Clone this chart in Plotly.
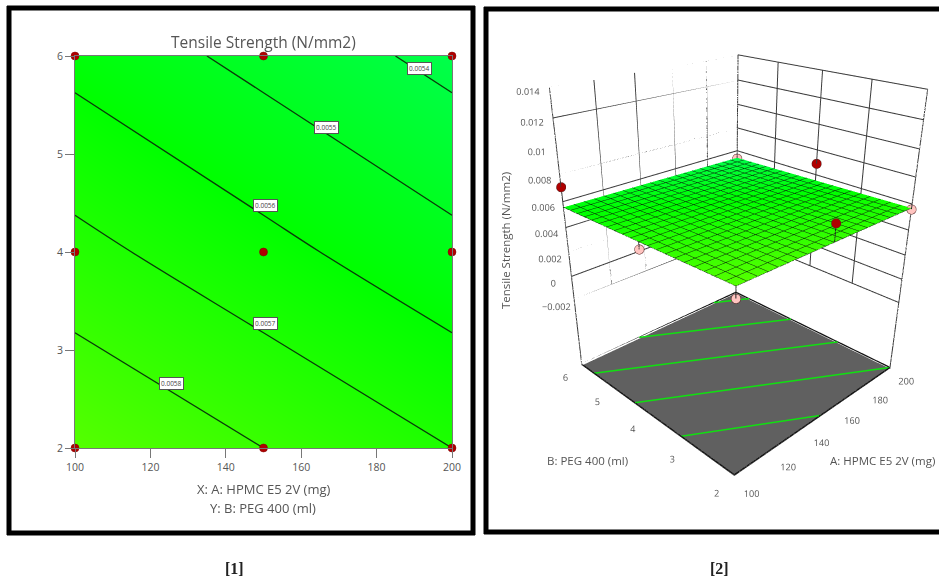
import plotly.graph_objects as go

# ---- data ----
a_vals = [100, 150, 200]
b_vals = [2, 4, 6]
strength = [[0.00590, 0.00580, 0.00570],
            [0.00573, 0.00563, 0.00553],
            [0.00557, 0.00547, 0.00537]]
contour_levels = [0.0054, 0.0055, 0.0056, 0.0057, 0.0058]
label_text = ["0.0054", "0.0055", "0.0056", "0.0057", "0.0058"]
label_a = [191.5, 166.7, 150.5, 150.5, 125.5]
label_b = [5.87, 5.27, 4.47, 3.27, 2.66]
design_a = [100, 150, 200, 100, 150, 200, 100, 150, 200]
design_b = [2, 2, 2, 4, 4, 4, 6, 6, 6]
design_actual = [0.0051, 0.0071, 0.0056, 0.0052, 0.0052, 0.0069, 0.0071, 0.0044, 0.0053]
a_ticks = [100, 120, 140, 160, 180, 200]
b_ticks = [2, 3, 4, 5, 6]
z_ticks = [-0.002, 0, 0.002, 0.004, 0.006, 0.008, 0.01, 0.012, 0.014]
floor_level = -0.0081
z_range = [-0.0085, 0.0145]
floor_lines_a = [[100, 150], [100, 200], [100, 200], [133.3, 200], [183.3, 200]]
floor_lines_b = [[3.2, 2], [4.4, 2], [5.6, 3.2], [6, 4.4], [6, 5.6]]

W, H = 939, 579
GRAY = "#555555"
FONT = "Open Sans"
def px(x): return x / W
def py(y): return 1 - y / H

scale = [[0, "rgb(0,255,75)"], [0.43, "rgb(0,255,0)"], [1, "rgb(85,255,0)"]]
zmin, zmax = 0.00537, 0.0059

fig = go.Figure()

# ---- left panel: contour plot ----
fig.add_trace(go.Contour(
    x=a_vals, y=b_vals, z=strength, colorscale=scale, zmin=zmin, zmax=zmax,
    showscale=False, line=dict(color="#0a3a0a", width=1.3),
    contours=dict(coloring="heatmap", start=contour_levels[0], end=contour_levels[-1], size=0.0001),
    xaxis="x", yaxis="y", hoverinfo="skip"))
fig.add_trace(go.Scatter(
    x=design_a, y=design_b, mode="markers", cliponaxis=False,
    marker=dict(color="#b00000", size=8, line=dict(color="#7a0000", width=0.5)),
    xaxis="x", yaxis="y", hoverinfo="skip"))

# ---- right panel: response surface ----
fig.add_trace(go.Surface(
    x=a_vals, y=b_vals, z=strength, colorscale=scale, cmin=zmin, cmax=zmax, showscale=False,
    lighting=dict(ambient=1, diffuse=0, specular=0, fresnel=0),
    contours=dict(
        x=dict(show=True, start=100, end=200, size=5, color="#0a2a0a", width=2),
        y=dict(show=True, start=2, end=6, size=0.2, color="#0a2a0a", width=2)),
    hoverinfo="skip", scene="scene"))

a0, a1, b0, b1 = a_ticks[0], a_ticks[-1], b_ticks[0], b_ticks[-1]
fig.add_trace(go.Mesh3d(
    x=[a0, a1, a1, a0], y=[b0, b0, b1, b1], z=[floor_level] * 4,
    i=[0, 0], j=[1, 2], k=[2, 3], color="#606060", flatshading=True,
    lighting=dict(ambient=1, diffuse=0, specular=0, fresnel=0),
    hoverinfo="skip", scene="scene"))

# floor contours
lift = 0.00012
for la, lb in zip(floor_lines_a, floor_lines_b):
    fig.add_trace(go.Scatter3d(
        x=la, y=lb, z=[floor_level + lift] * 2, mode="lines",
        line=dict(color="#10e010", width=3), hoverinfo="skip", scene="scene"))

# floor outline
fig.add_trace(go.Scatter3d(
    x=[a0, a1, a1, a0, a0], y=[b0, b0, b1, b1, b0], z=[floor_level + lift] * 5,
    mode="lines", line=dict(color="#111111", width=2.5), hoverinfo="skip", scene="scene"))

# wall grid, stopping at the lowest z tick
gx, gy, gz = [], [], []
zlo, ztop = z_ticks[0], z_ticks[-1]
for t in z_ticks:
    gx += [a0, a1, a1, None]; gy += [b1, b1, b0, None]; gz += [t, t, t, None]
for t in a_ticks[1:-1]:
    gx += [t, t, None]; gy += [b1, b1, None]; gz += [zlo, ztop, None]
for t in b_ticks[1:-1]:
    gx += [a1, a1, None]; gy += [t, t, None]; gz += [zlo, ztop, None]
for ca, cb in [(a0, b1), (a1, b1), (a1, b0)]:
    gx += [ca, ca, None]; gy += [cb, cb, None]; gz += [floor_level, ztop, None]
fig.add_trace(go.Scatter3d(x=gx, y=gy, z=gz, mode="lines",
                           line=dict(color="#3a3a3a", width=2), hoverinfo="skip", scene="scene"))

# design points, stems to the surface
sx, sy, sz, colors = [], [], [], []
for a, b, v in zip(design_a, design_b, design_actual):
    s = strength[b_vals.index(b)][a_vals.index(a)]
    sx += [a, a, None]; sy += [b, b, None]; sz += [s, v, None]
    colors.append("#b00000" if v > s else "#ffc4c0")
fig.add_trace(go.Scatter3d(x=sx, y=sy, z=sz, mode="lines",
                           line=dict(color="#222222", width=2), hoverinfo="skip", scene="scene"))
fig.add_trace(go.Scatter3d(x=design_a, y=design_b, z=design_actual, mode="markers",
                           marker=dict(color=colors, size=5.5, line=dict(color="#552222", width=1)),
                           hoverinfo="skip", scene="scene"))

tickfont = dict(family=FONT, size=10.5, color=GRAY)
def ax3d(**kw):
    return dict(showgrid=False, zeroline=False, showbackground=False, showspikes=False,
                showline=False, title=dict(text=""), tickfont=tickfont, tickmode="array",
                tickangle=0, **kw)

fig.update_layout(
    width=W, height=H, margin=dict(l=0, r=0, t=0, b=0, pad=0),
    paper_bgcolor="white", plot_bgcolor="white", showlegend=False,
    xaxis=dict(domain=[px(75), px(452)], range=[100, 200], tickvals=a_ticks, ticks="outside",
               ticklen=9, tickcolor="#777777", tickfont=tickfont, showgrid=False, zeroline=False,
               showline=True, linecolor="#777777", mirror=True, automargin=False),
    yaxis=dict(domain=[py(448), py(56)], range=[2, 6], tickvals=b_ticks, ticks="outside",
               ticklen=9, tickcolor="#777777", tickfont=tickfont, showgrid=False, zeroline=False,
               showline=True, linecolor="#777777", mirror=True, automargin=False),
    scene=dict(
        domain=dict(x=[px(510), 1], y=[0, 1]),
        aspectmode="manual", aspectratio=dict(x=1, y=1, z=1.309),
        camera=dict(eye=dict(x=-1.88, y=-1.88, z=1.202), center=dict(x=-0.035, y=0.035, z=-0.228),
                    up=dict(x=0, y=0, z=1)),
        xaxis=ax3d(range=[a0, a1], tickvals=a_ticks),
        yaxis=ax3d(range=[b0, b1], tickvals=b_ticks),
        zaxis=ax3d(range=z_range, tickvals=z_ticks),
        bgcolor="rgba(0,0,0,0)"),
)

def note(text, x, y, size=12.5, color=GRAY, family=FONT, **kw):
    fig.add_annotation(text=text, x=px(x), y=py(y), xref="paper", yref="paper", showarrow=False,
                       xanchor="center", yanchor="middle", font=dict(family=family, size=size, color=color), **kw)

note("Tensile Strength (N/mm2)", 263, 42, size=15.5)
note("X: A: HPMC E5 2V (mg)", 263, 489, size=13)
note("Y: B: PEG 400 (ml)", 263, 508, size=13)
note("B: PEG 400 (ml)", 587, 460, size=11.5)
note("A: HPMC E5 2V (mg)", 882, 460, size=11.5)
note("Tensile Strength (N/mm2)", 505, 241, size=11.5, textangle=-90)
note("<b>[1]</b>", 234, 568, size=16, color="#222222", family="Liberation Serif")
note("<b>[2]</b>", 719, 568, size=16, color="#222222", family="Liberation Serif")

for t, la, lb in zip(label_text, label_a, label_b):
    fig.add_annotation(text=t, x=la, y=lb, xref="x", yref="y", showarrow=False,
                       font=dict(family=FONT, size=6.5, color="#444444"),
                       bgcolor="white", bordercolor="#555555", borderwidth=1, borderpad=1)

frame = dict(type="line", xref="paper", yref="paper", line=dict(color="black", width=5))
for x0, y0, x1, y1 in [(7, 8, 475, 8), (7, 533, 475, 533), (9, 6, 9, 535), (473, 6, 473, 535),
                       (484, 9, 939, 9), (484, 532, 939, 532), (486, 7, 486, 534)]:
    fig.add_shape(x0=px(x0), y0=py(y0), x1=px(x1), y1=py(y1), **frame)

fig.write_html("out.html", config=dict(displayModeBar=False),
               post_script="document.body.style.margin='0';")
